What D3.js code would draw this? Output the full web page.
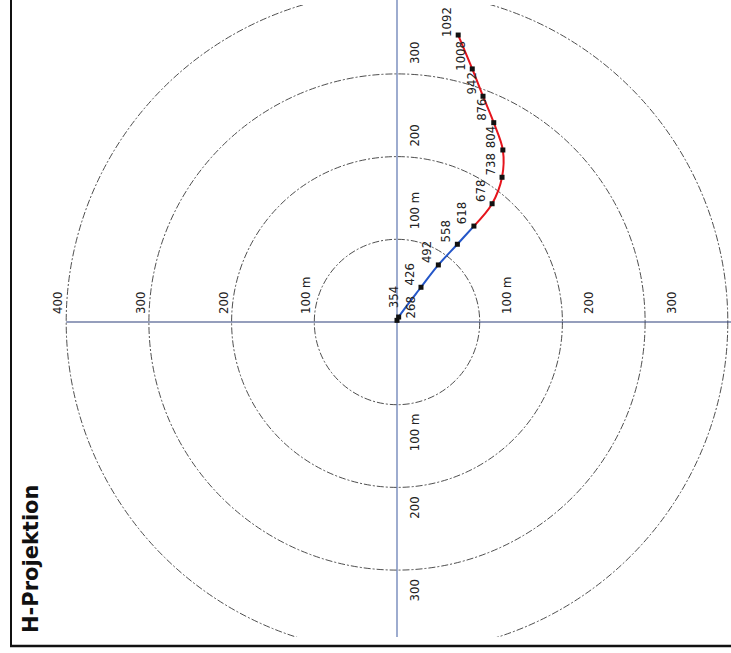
<!DOCTYPE html>
<html>
<head>
<meta charset="utf-8">
<script src="https://cdn.jsdelivr.net/npm/d3@7"></script>
<style>
  html, body { margin: 0; padding: 0; background: #fff; }
  svg { display: block; }
  text { font-family: "DejaVu Sans Condensed", "DejaVu Sans", sans-serif; font-stretch: condensed; }
</style>
</head>
<body>
<svg id="chart" width="731" height="653"></svg>
<script>
// ---- data ----
const title = "H-Projektion";
const ringValues = [100, 200, 300, 400];
const ringLabels = ["100 m", "200", "300", "400"];
// horizontal projection of the path (metres, east / north offsets)
const depths = [268, 354, 426, 492, 558, 618, 678, 738, 804, 876, 942, 1008, 1092];
const eastM  = [0, 2, 29, 50, 73, 93, 115, 127, 128, 117, 104, 91, 74];
const northM = [2, 6, 42, 69, 94, 116, 143, 175, 208, 241, 273, 306, 347];
const blueUntilDepth = 618;   // path shown blue up to this depth, red beyond

// ---- layout ----
const W = 731, H = 653;
const cx = 397, cy = 322, pxPer100 = 82.7;
const svg = d3.select("#chart");

const x = d3.scaleLinear().domain([0, 100]).range([cx, cx + pxPer100]);
const y = d3.scaleLinear().domain([0, 100]).range([cy, cy - pxPer100]);
const r = d3.scaleLinear().domain([0, 100]).range([0, pxPer100]);

svg.append("defs").append("clipPath").attr("id", "frame")
  .append("rect").attr("x", 12).attr("y", 5).attr("width", W - 12).attr("height", 632);

// rings
svg.append("g").attr("clip-path", "url(#frame)")
  .selectAll("circle").data(ringValues).join("circle")
  .attr("cx", x(0)).attr("cy", y(0)).attr("r", d => r(d))
  .attr("fill", "none").attr("stroke", "#3a3a3a").attr("stroke-width", 0.9)
  .attr("stroke-dasharray", "7,2,2,2");

// axes (cross)
svg.append("line").attr("x1", x(0)).attr("x2", x(0)).attr("y1", 0).attr("y2", 637)
  .attr("stroke", "#4d68a8").attr("stroke-width", 1.1);
svg.append("line").attr("x1", x(-400)).attr("x2", W).attr("y1", y(0)).attr("y2", y(0))
  .attr("stroke", "#2d3f7a").attr("stroke-width", 1.1);

// axis labels
const fs = 13;
function rotText(g, tx, ty, txt, anchor, dy) {
  g.append("text").attr("transform", `translate(${tx},${ty}) rotate(-90)`)
    .attr("text-anchor", anchor).attr("dy", dy || 0)
    .attr("font-size", fs).attr("fill", "#222").text(txt);
}
const gl = svg.append("g");
ringValues.forEach((v, i) => {
  const t = ringLabels[i];
  if (y(v) - 10 > 0) rotText(gl, cx + 22, y(v) - 10, t, "start");          // up
  if (y(-v) + 9 < 637) rotText(gl, cx + 22, y(-v) + 9, t, "end");           // down
  if (x(-v) > 20) rotText(gl, x(-v) - 4, 314, t, "start");                  // left
  if (x(v) + 31 < W - 5) rotText(gl, x(v) + 31, 314, t, "start");           // right
});

// path
const pts = depths.map((d, i) => ({ d, px: x(eastM[i]), py: y(northM[i]) }));
const line = d3.line().x(p => p.px).y(p => p.py).curve(d3.curveCatmullRom.alpha(0.5));
const split = depths.indexOf(blueUntilDepth);
svg.append("path").attr("d", line(pts.slice(0, split + 1)))
  .attr("fill", "none").attr("stroke", "#2456c8").attr("stroke-width", 2);
svg.append("path").attr("d", line(pts.slice(split)))
  .attr("fill", "none").attr("stroke", "#e5141c").attr("stroke-width", 2);

svg.append("g").selectAll("rect").data(pts).join("rect")
  .attr("x", p => p.px - 2.5).attr("y", p => p.py - 2.5)
  .attr("width", 5).attr("height", 5).attr("fill", "#111");

// depth labels
pts.forEach((p, i) => {
  const off = i === 0 ? [13, -13] : i === 1 ? [-5, -20] : [-12, -13];
  svg.append("text")
    .attr("transform", `translate(${p.px + off[0]},${p.py + off[1]}) rotate(-90)`)
    .attr("text-anchor", "middle").attr("dy", "0.35em")
    .attr("font-size", fs).attr("fill", "#222").text(p.d);
});

// frame
svg.append("line").attr("x1", 11).attr("x2", 11).attr("y1", 0).attr("y2", 647)
  .attr("stroke", "#111").attr("stroke-width", 2);
svg.append("line").attr("x1", 10).attr("x2", W).attr("y1", 646).attr("y2", 646)
  .attr("stroke", "#111").attr("stroke-width", 2.5);

// title
svg.append("text").attr("transform", "translate(38,633) rotate(-90)")
  .attr("text-anchor", "start")
  .style("font-family", "'DejaVu Sans', sans-serif").style("font-stretch", "normal")
  .attr("font-weight", "bold").attr("font-size", 21).attr("fill", "#111").text(title);
</script>
</body>
</html>
